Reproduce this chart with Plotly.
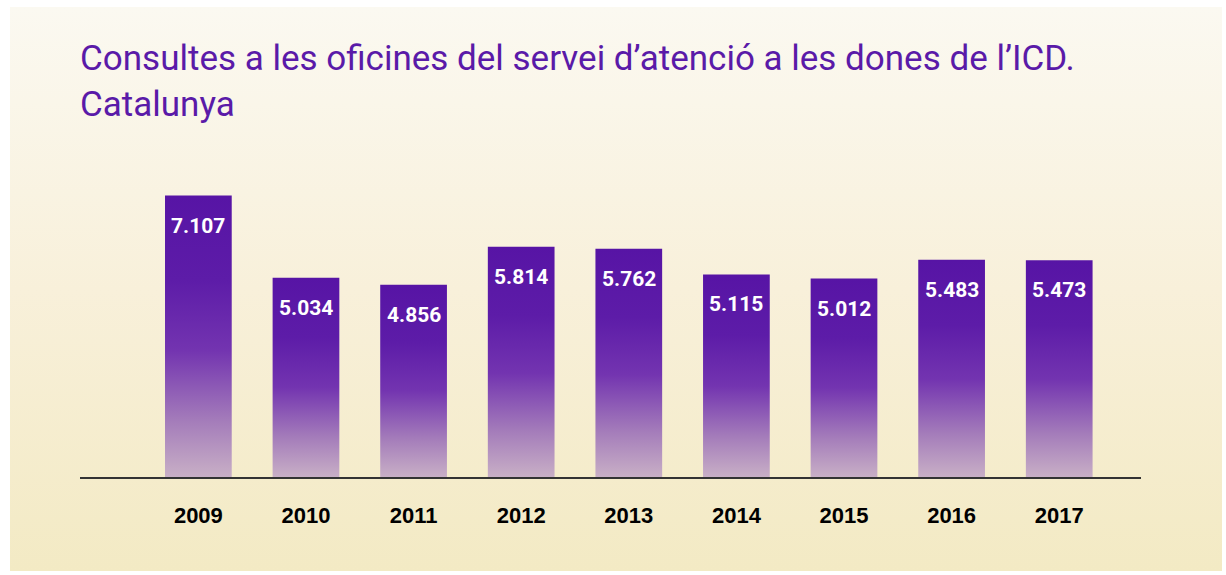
import base64
import plotly.graph_objects as go

# dades
anys = ['2009', '2010', '2011', '2012', '2013', '2014', '2015', '2016', '2017']
consultes = [7107, 5034, 4856, 5814, 5762, 5115, 5012, 5483, 5473]

W, H = 1226, 575
ML, MR, MT, MB = 80, 85, 180, 98
plot_w = W - ML - MR
plot_h = H - MT - MB

lila = '#5a1aa8'
degradat_barra = [[0, '#c8afc6'], [0.2, '#a47cba'], [0.45, '#7334b0'],
                  [0.7, '#5d1ca8'], [1, '#5714a5']]

fig = go.Figure()

amplada = 0.62
for i, (a, v) in enumerate(zip(anys, consultes)):
    x0, x1 = i - amplada / 2, i + amplada / 2
    fig.add_trace(go.Scatter(
        x=[x0, x1, x1, x0, x0], y=[0, 0, v, v, 0],
        mode='lines', line=dict(width=0),
        fill='toself',
        fillgradient=dict(type='vertical', colorscale=degradat_barra),
        hoverinfo='skip', showlegend=False))
    fig.add_annotation(x=i, y=v, yshift=-30, yanchor='middle',
                       text=f'{v:,}'.replace(',', '.'), showarrow=False,
                       font=dict(family='Roboto', size=21,
                                 color='white', weight='bold'))

# fons del requadre (degradat crema)
svg = ('<svg xmlns="http://www.w3.org/2000/svg" width="100" height="100" '
       'preserveAspectRatio="none"><defs><linearGradient id="g" x1="0" y1="0" '
       'x2="0" y2="1"><stop offset="0" stop-color="#fbf9f1"/>'
       '<stop offset="0.5" stop-color="#f8f0da"/>'
       '<stop offset="1" stop-color="#f3eac4"/></linearGradient></defs>'
       '<rect width="100" height="100" fill="url(#g)"/></svg>')
src = 'data:image/svg+xml;base64,' + base64.b64encode(svg.encode()).decode()

def px_x(p):
    return (p - ML) / plot_w

def px_y(p):
    return (H - MB - p) / plot_h

fig.add_layout_image(dict(
    source=src, xref='paper', yref='paper',
    x=px_x(10), y=px_y(7),
    sizex=px_x(1222) - px_x(10), sizey=px_y(7) - px_y(571),
    xanchor='left', yanchor='top', sizing='stretch', layer='below'))

fig.update_layout(
    width=W, height=H,
    margin=dict(l=ML, r=MR, t=MT, b=MB),
    paper_bgcolor='white',
    plot_bgcolor='rgba(0,0,0,0)',
    title=dict(
        text='Consultes a les oficines del servei d\u2019atenció a les dones de l\u2019ICD.<br>Catalunya',
        xref='paper', x=0, xanchor='left',
        yref='container', y=1 - 70 / H, yanchor='top',
        font=dict(family='Roboto', size=35, color=lila)),
    xaxis=dict(range=[-1.10, 8.76], tickvals=list(range(len(anys))),
               ticktext=anys, showgrid=False, zeroline=False,
               showline=True, linecolor='#333333', linewidth=2,
               ticks='', ticklabelstandoff=18,
               tickfont=dict(family='Liberation Sans', size=22,
                             color='black', weight='bold')),
    yaxis=dict(range=[0, 7500], visible=False, showgrid=False,
               zeroline=False),
)

fig.write_html('out.html', config={'displayModeBar': False},
               post_script="document.body.style.margin='0';")
